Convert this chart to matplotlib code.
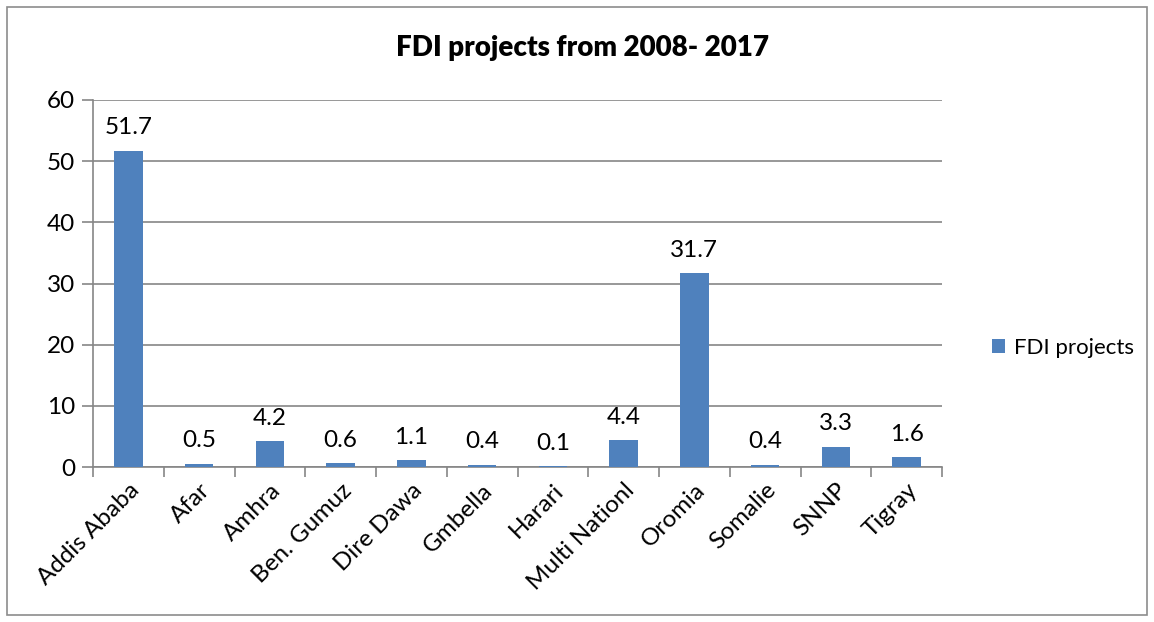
import matplotlib.pyplot as plt
import numpy as np

regions = ['Addis Ababa', 'Afar', 'Amhra', 'Ben. Gumuz', 'Dire Dawa', 'Gmbella',
           'Harari', 'Multi Nationl', 'Oromia', 'Somalie', 'SNNP', 'Tigray']
fdi_projects = [51.7, 0.5, 4.2, 0.6, 1.1, 0.4, 0.1, 4.4, 31.7, 0.4, 3.3, 1.6]
yticks = [0, 10, 20, 30, 40, 50, 60]

plt.rcParams['font.family'] = ['Lato', 'DejaVu Sans']
grid_col = '#868686'
fs = 17.5

fig = plt.figure(figsize=(11.54, 6.22), dpi=100)
ax = fig.add_axes([93 / 1154, 1 - 467 / 622, 849 / 1154, 367 / 622])

x = np.arange(len(regions))
bars = ax.bar(x, fdi_projects, width=0.4, color='#4F81BD', label='FDI projects', zorder=3)

for xi, v in zip(x, fdi_projects):
    ax.annotate(f'{v}', (xi, v), xytext=(0, 9), textcoords='offset points',
                ha='center', va='bottom', fontsize=fs)

ax.set_xlim(-0.5, len(regions) - 0.5)
ax.set_ylim(0, 60)
ax.set_yticks(yticks)
ax.yaxis.grid(True, color=grid_col, linewidth=1.2, zorder=0)
ax.set_xticks(np.arange(len(regions) + 1) - 0.5)
ax.set_xticklabels([])
ax.set_xticks(x, minor=True)
ax.set_xticklabels(regions, minor=True, rotation=45, ha='right', va='top',
                   rotation_mode='anchor', fontsize=fs)
ax.tick_params(axis='x', which='minor', length=0, pad=9)
ax.tick_params(axis='x', which='major', length=7, color=grid_col, width=1.2)
ax.tick_params(axis='y', length=8, color=grid_col, width=1.2, labelsize=fs, pad=5)

for s in ['top', 'right']:
    ax.spines[s].set_visible(False)
for s in ['left', 'bottom']:
    ax.spines[s].set_color(grid_col)
    ax.spines[s].set_linewidth(1.2)

fig.text(583 / 1154, 1 - 48 / 622, 'FDI projects from 2008- 2017', ha='center', va='center',
         fontsize=20, fontweight='heavy')

ax.legend(loc='center left', bbox_to_anchor=(972 / 1154, 1 - 348 / 622),
          bbox_transform=fig.transFigure, frameon=False, fontsize=16,
          handlelength=0.6, handleheight=0.6, handletextpad=0.4)

border = plt.Rectangle((7 / 1154, 7 / 622), 1140 / 1154, 608 / 622, transform=fig.transFigure,
                       fill=False, edgecolor='#8c8c8c', linewidth=1.2)
fig.patches.append(border)

plt.savefig('out.png', dpi=100)
